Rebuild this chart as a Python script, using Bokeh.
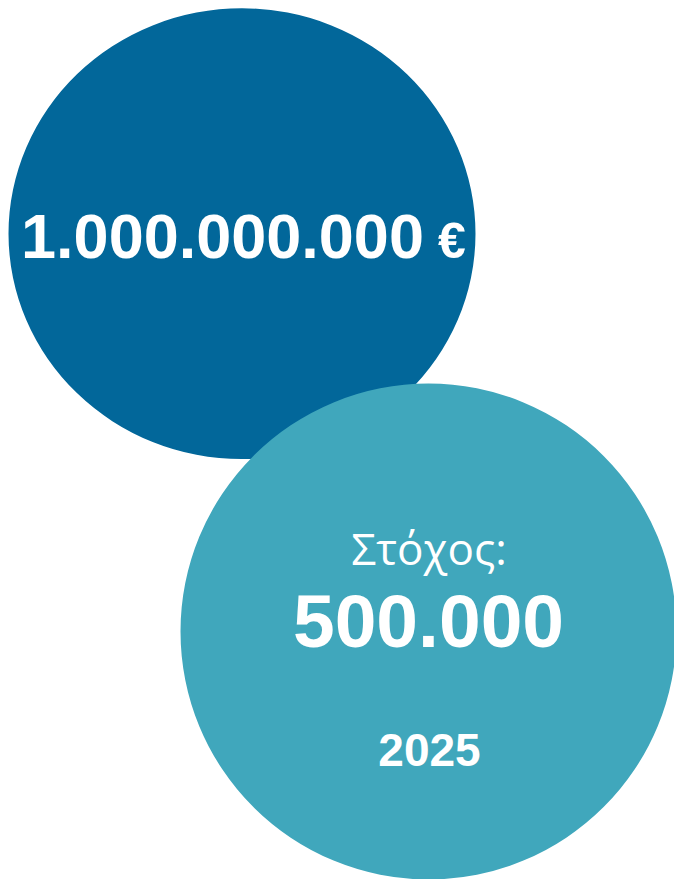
from bokeh.plotting import figure
from bokeh.models import Range1d
from bokeh.core.properties import value
from bokeh.embed import file_html
from bokeh.resources import INLINE

# ---- data (texts shown in the graphic) ----
budget_value = ["1.000.000.000"]
budget_unit = ["€"]
target_label = ["Στόχος:"]
target_value = ["500.000"]
target_year = ["2025"]

# ---- layout (pixel-like data units, y grows downward) ----
W, H = 674, 879
dark = "#02679A"
teal = "#40A7BC"

p = figure(width=W, height=H, output_backend="svg", toolbar_location=None,
           x_range=Range1d(0, W), y_range=Range1d(H, 0),
           min_border=0, outline_line_color=None, background_fill_color="white",
           border_fill_color="white")
p.axis.visible = False
p.grid.visible = False

# circles
p.ellipse(x=[241.5], y=[233.2], width=[467], height=[451],
          fill_color=dark, line_color=None)
p.ellipse(x=[428], y=[631], width=[496], height=[496],
          fill_color=teal, line_color=None)

font = value("Liberation Sans")

p.text(x=[222], y=[235.5], text=budget_value, text_font=font,
       text_font_size="63px", text_font_style="bold", text_color="white",
       text_align="center", text_baseline="alphabetic")
p.text(x=[451.5], y=[240.5], text=budget_unit, text_font=font,
       text_font_size="50px", text_font_style="bold", text_color="white",
       text_align="center", text_baseline="alphabetic")

p.text(x=[428.5], y=[547], text=target_label, text_font=value("Open Sans"),
       text_font_size="44px", text_font_style="normal", text_color="white",
       text_align="center", text_baseline="alphabetic")
p.text(x=[428], y=[620.5], text=target_value, text_font=font,
       text_font_size="75px", text_font_style="bold", text_color="white",
       text_align="center", text_baseline="alphabetic")
p.text(x=[429], y=[749.5], text=target_year, text_font=font,
       text_font_size="46px", text_font_style="bold", text_color="white",
       text_align="center", text_baseline="alphabetic")

open("out.html", "w").write(file_html(p, INLINE))
